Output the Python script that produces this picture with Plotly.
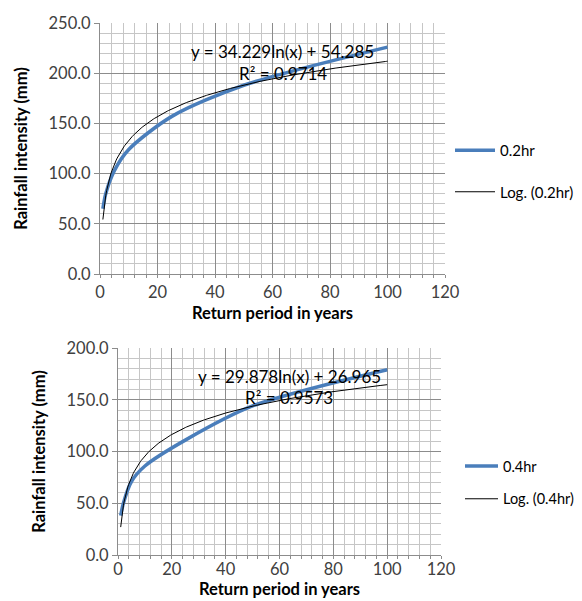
import numpy as np
import plotly.graph_objects as go

# ---- data ----
return_period = [1, 2, 5, 10, 25, 50, 100]
intensity_02hr = [65, 80, 103, 124, 157, 188, 226]
intensity_04hr = [38, 50, 71, 86, 111, 144, 179]

# trendline coefficients shown on chart (y = a ln(x) + b)
trend_02_a, trend_02_b, trend_02_r2 = 34.229, 54.285, 0.9714
trend_04_a, trend_04_b, trend_04_r2 = 29.878, 26.965, 0.9573

x_ticks = [0, 20, 40, 60, 80, 100, 120]

FONT = "Lato"
BLUE = "#4a7ebb"
W, H = 582, 601

def px(x):
    return x / W

def py(y):
    return 1 - y / H

xt = np.linspace(min(return_period), max(return_period), 300)

fig = go.Figure()

fig.add_trace(go.Scatter(x=return_period, y=intensity_02hr, mode="lines", name="0.2hr",
                         line=dict(color=BLUE, width=3.5, shape="spline", smoothing=0.8),
                         xaxis="x", yaxis="y", legend="legend", legendgroup="a"))
fig.add_trace(go.Scatter(x=xt, y=trend_02_a * np.log(xt) + trend_02_b, mode="lines",
                         name="Log. (0.2hr)", line=dict(color="black", width=1),
                         xaxis="x", yaxis="y", legend="legend", legendgroup="b"))
fig.add_trace(go.Scatter(x=return_period, y=intensity_04hr, mode="lines", name="0.4hr",
                         line=dict(color=BLUE, width=3.5, shape="spline", smoothing=0.8),
                         xaxis="x2", yaxis="y2", legend="legend2", legendgroup="c"))
fig.add_trace(go.Scatter(x=xt, y=trend_04_a * np.log(xt) + trend_04_b, mode="lines",
                         name="Log. (0.4hr)", line=dict(color="black", width=1),
                         xaxis="x2", yaxis="y2", legend="legend2", legendgroup="d"))

tickfont = dict(family=FONT, size=16.5, color="#404040")
titlefont = dict(family=FONT, size=16.5, color="black", weight="bold")
major_grid = "#8c8c8c"
minor_grid = "#c6c6c6"

def xaxis(domain, anchor, standoff, lblstandoff):
    return dict(domain=domain, anchor=anchor, range=[0, 120], tickvals=x_ticks,
                automargin=False, ticklabelstandoff=lblstandoff,
                showgrid=True, gridcolor=major_grid, gridwidth=1,
                minor=dict(dtick=4, showgrid=True, gridcolor=minor_grid, ticks="outside",
                           ticklen=3, tickcolor="#8c8c8c"),
                ticks="outside", ticklen=3, tickcolor="#8c8c8c",
                showline=True, linecolor="#8c8c8c", linewidth=1,
                zeroline=False, tickfont=tickfont, fixedrange=True,
                title=dict(text="Return period in years", font=titlefont, standoff=standoff))

def yaxis(domain, anchor, rng, dtick):
    return dict(domain=domain, anchor=anchor, range=rng, dtick=dtick, tick0=0,
                automargin=False,
                tickformat=".1f", showgrid=True, gridcolor=major_grid, gridwidth=1,
                minor=dict(dtick=10, showgrid=True, gridcolor=minor_grid),
                ticks="outside", ticklen=5, tickcolor="#8c8c8c",
                showline=True, linecolor="#8c8c8c", linewidth=1,
                zeroline=False, tickfont=tickfont, fixedrange=True,
                title=dict(text="Rainfall intensity (mm)", font=titlefont, standoff=16))

fig.update_layout(
    width=W, height=H,
    margin=dict(l=0, r=0, t=0, b=0, autoexpand=False),
    paper_bgcolor="white", plot_bgcolor="white",
    font=dict(family=FONT, color="black"),
    xaxis=xaxis([px(92), px(437)], "y", 6, 0),
    yaxis=yaxis([py(266), py(15)], "x", [0, 250], 50),
    xaxis2=xaxis([px(110), px(433)], "y2", 2, -4),
    yaxis2=yaxis([py(547), py(340)], "x2", [0, 200], 50),
    legend=dict(x=px(442), y=py(126), xanchor="left", yanchor="top",
                font=dict(family=FONT, size=15, color="black"),
                bgcolor="rgba(0,0,0,0)", traceorder="grouped", tracegroupgap=19,
                itemwidth=40),
    legend2=dict(x=px(452), y=py(442), xanchor="left", yanchor="top",
                 font=dict(family=FONT, size=14.5, color="black"),
                 bgcolor="rgba(0,0,0,0)", traceorder="grouped", tracegroupgap=11,
                 itemwidth=33),
    showlegend=True,
)

eqfont = dict(family=FONT, size=17, color="black")
ann = [
    dict(text=f"y = {trend_02_a}ln(x) + {trend_02_b}", x=px(274), y=py(43)),
    dict(text=f"R² = {trend_02_r2}", x=px(275), y=py(65)),
    dict(text=f"y = {trend_04_a}ln(x) + {trend_04_b}", x=px(281), y=py(368)),
    dict(text=f"R² = {trend_04_r2}", x=px(281), y=py(389)),
]
for a in ann:
    fig.add_annotation(xref="paper", yref="paper", showarrow=False, font=eqfont,
                       xanchor="center", yanchor="middle", **a)

fig.write_html("out.html")
